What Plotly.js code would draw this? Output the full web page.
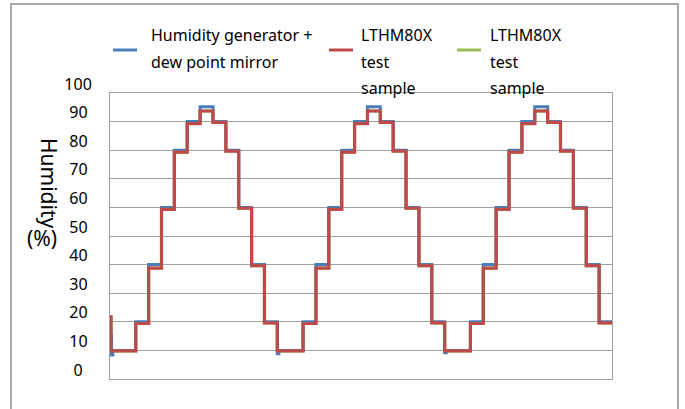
<!DOCTYPE html>
<html><head><meta charset="utf-8">
<script src="https://cdn.plot.ly/plotly-3.0.1.min.js"></script>
<style>html,body{margin:0;padding:0;background:#fff;} #chart{width:685px;height:409px;}</style>
</head><body><div id="chart"></div>
<script>
// ---- data (step start times in step units, humidity in %) ----
const seriesNames = ["Humidity generator + dew point mirror", "LTHM80X test sample", "LTHM80X test sample"];
const refTime = [0, 0.12, 0.22, 2, 3, 4, 5, 6, 7, 8, 9, 10, 11, 12,
                 13, 13.12, 15, 16, 17, 18, 19, 20, 21, 22, 23, 24, 25,
                 26, 26.12, 28, 29, 30, 31, 32, 33, 34, 35, 36, 37, 38, 39];
const refHumidity = [15.3, 8.4, 10, 20, 40, 60, 80, 90, 95.2, 90, 80, 60, 40, 20,
                     8.8, 10, 20, 40, 60, 80, 90, 95.2, 90, 80, 60, 40, 20,
                     9.2, 10, 20, 40, 60, 80, 90, 95.2, 90, 80, 60, 40, 20, 20];
const sampleTime = [0, 0.08, 2, 3, 4, 5, 6, 7, 8, 9, 10, 11, 12,
                    13, 15, 16, 17, 18, 19, 20, 21, 22, 23, 24, 25,
                    26, 28, 29, 30, 31, 32, 33, 34, 35, 36, 37, 38, 39];
const sampleHumidity = [21.7, 9.8, 19.4, 38.8, 59.3, 79.3, 89.3, 93.7, 89.7, 79.7, 59.7, 39.6, 19.6,
                        9.8, 19.4, 38.8, 59.3, 79.3, 89.3, 93.7, 89.7, 79.7, 59.7, 39.6, 19.6,
                        9.8, 19.4, 38.8, 59.3, 79.3, 89.3, 93.7, 89.7, 79.7, 59.7, 39.6, 19.6, 19.6];
const yTickVals = [0, 10, 20, 30, 40, 50, 60, 70, 80, 90, 100];
const yTickText = ["0\u2007", "10\u00A0", "20\u00A0", "30\u00A0", "40\u00A0", "50\u00A0", "60\u00A0", "70\u00A0", "80\u00A0", "90\u00A0", "100"];
const legendLines = [["Humidity generator +", "dew point mirror"], ["LTHM80X", "test", "sample"], ["LTHM80X", "test", "sample"]];
const yTitleMain = "Humidity";
const yTitleUnit = "(%)";
const colors = ["#4a7ebb", "#be4b48", "#98b954"];

// ---- geometry helpers ----
const L = 110, T = 93, W = 502, H = 286;
const px2x = p => (p - L) / W;
const py2y = p => (T + H - p) / H;
const FONT = "Noto Sans, Open Sans, sans-serif";

const traces = [
  {x: sampleTime, y: sampleHumidity, name: seriesNames[2], type: "scatter", mode: "lines",
   line: {color: colors[2], width: 3, shape: "hv"}, showlegend: false, hoverinfo: "skip"},
  {x: refTime, y: refHumidity, name: seriesNames[0], type: "scatter", mode: "lines",
   line: {color: colors[0], width: 3, shape: "hv"}, showlegend: false},
  {x: sampleTime, y: sampleHumidity, name: seriesNames[1], type: "scatter", mode: "lines",
   line: {color: colors[1], width: 3.2, shape: "hv"}, showlegend: false}
];

const swatchX = [[113, 137], [329, 353], [457, 481]];
const textX = [149, 359, 488];
const rowY = [35, 62, 88];
const shapes = [];
const annotations = [];
legendLines.forEach((lines, i) => {
  shapes.push({type: "line", xref: "paper", yref: "paper",
    x0: px2x(swatchX[i][0]), x1: px2x(swatchX[i][1]), y0: py2y(50), y1: py2y(50),
    line: {color: colors[i], width: 3}});
  lines.forEach((t, j) => {
    annotations.push({text: t, xref: "paper", yref: "paper", x: px2x(textX[i]), y: py2y(rowY[j]),
      xanchor: "left", yanchor: "middle", showarrow: false,
      font: {family: FONT, size: 16, color: "#000"}});
  });
});
annotations.push({text: yTitleMain, xref: "paper", yref: "paper", x: px2x(49), y: py2y(183),
  xanchor: "center", yanchor: "middle", textangle: 90, showarrow: false,
  font: {family: FONT, size: 21, color: "#000"}});
annotations.push({text: yTitleUnit, xref: "paper", yref: "paper", x: px2x(42), y: py2y(238),
  xanchor: "center", yanchor: "middle", showarrow: false,
  font: {family: FONT, size: 21, color: "#000"}});
shapes.push({type: "rect", xref: "paper", yref: "paper",
  x0: px2x(11), x1: px2x(678), y0: py2y(430), y1: py2y(4),
  line: {color: "#a8a8a8", width: 2}});

const layout = {
  width: 685, height: 409,
  margin: {l: L, r: 685 - L - W, t: T, b: 409 - T - H, pad: 0},
  paper_bgcolor: "#fff", plot_bgcolor: "#fff",
  font: {family: FONT, size: 16, color: "#000"},
  showlegend: false,
  xaxis: {range: [0, 39], showticklabels: false, showgrid: false, zeroline: false,
    showline: true, mirror: true, linecolor: "#a0a0a0", linewidth: 1, ticks: ""},
  yaxis: {range: [0, 100], tickvals: yTickVals, ticktext: yTickText, showgrid: true,
    gridcolor: "#a0a0a0", gridwidth: 1, zeroline: false, showline: true, mirror: true,
    linecolor: "#a0a0a0", linewidth: 1, ticks: "", ticklabelstandoff: 14, ticklabelshift: -9,
    tickfont: {family: FONT, size: 16, color: "#000"}},
  shapes: shapes,
  annotations: annotations
};
Plotly.newPlot("chart", traces, layout, {displayModeBar: false, staticPlot: true});
</script></body></html>
